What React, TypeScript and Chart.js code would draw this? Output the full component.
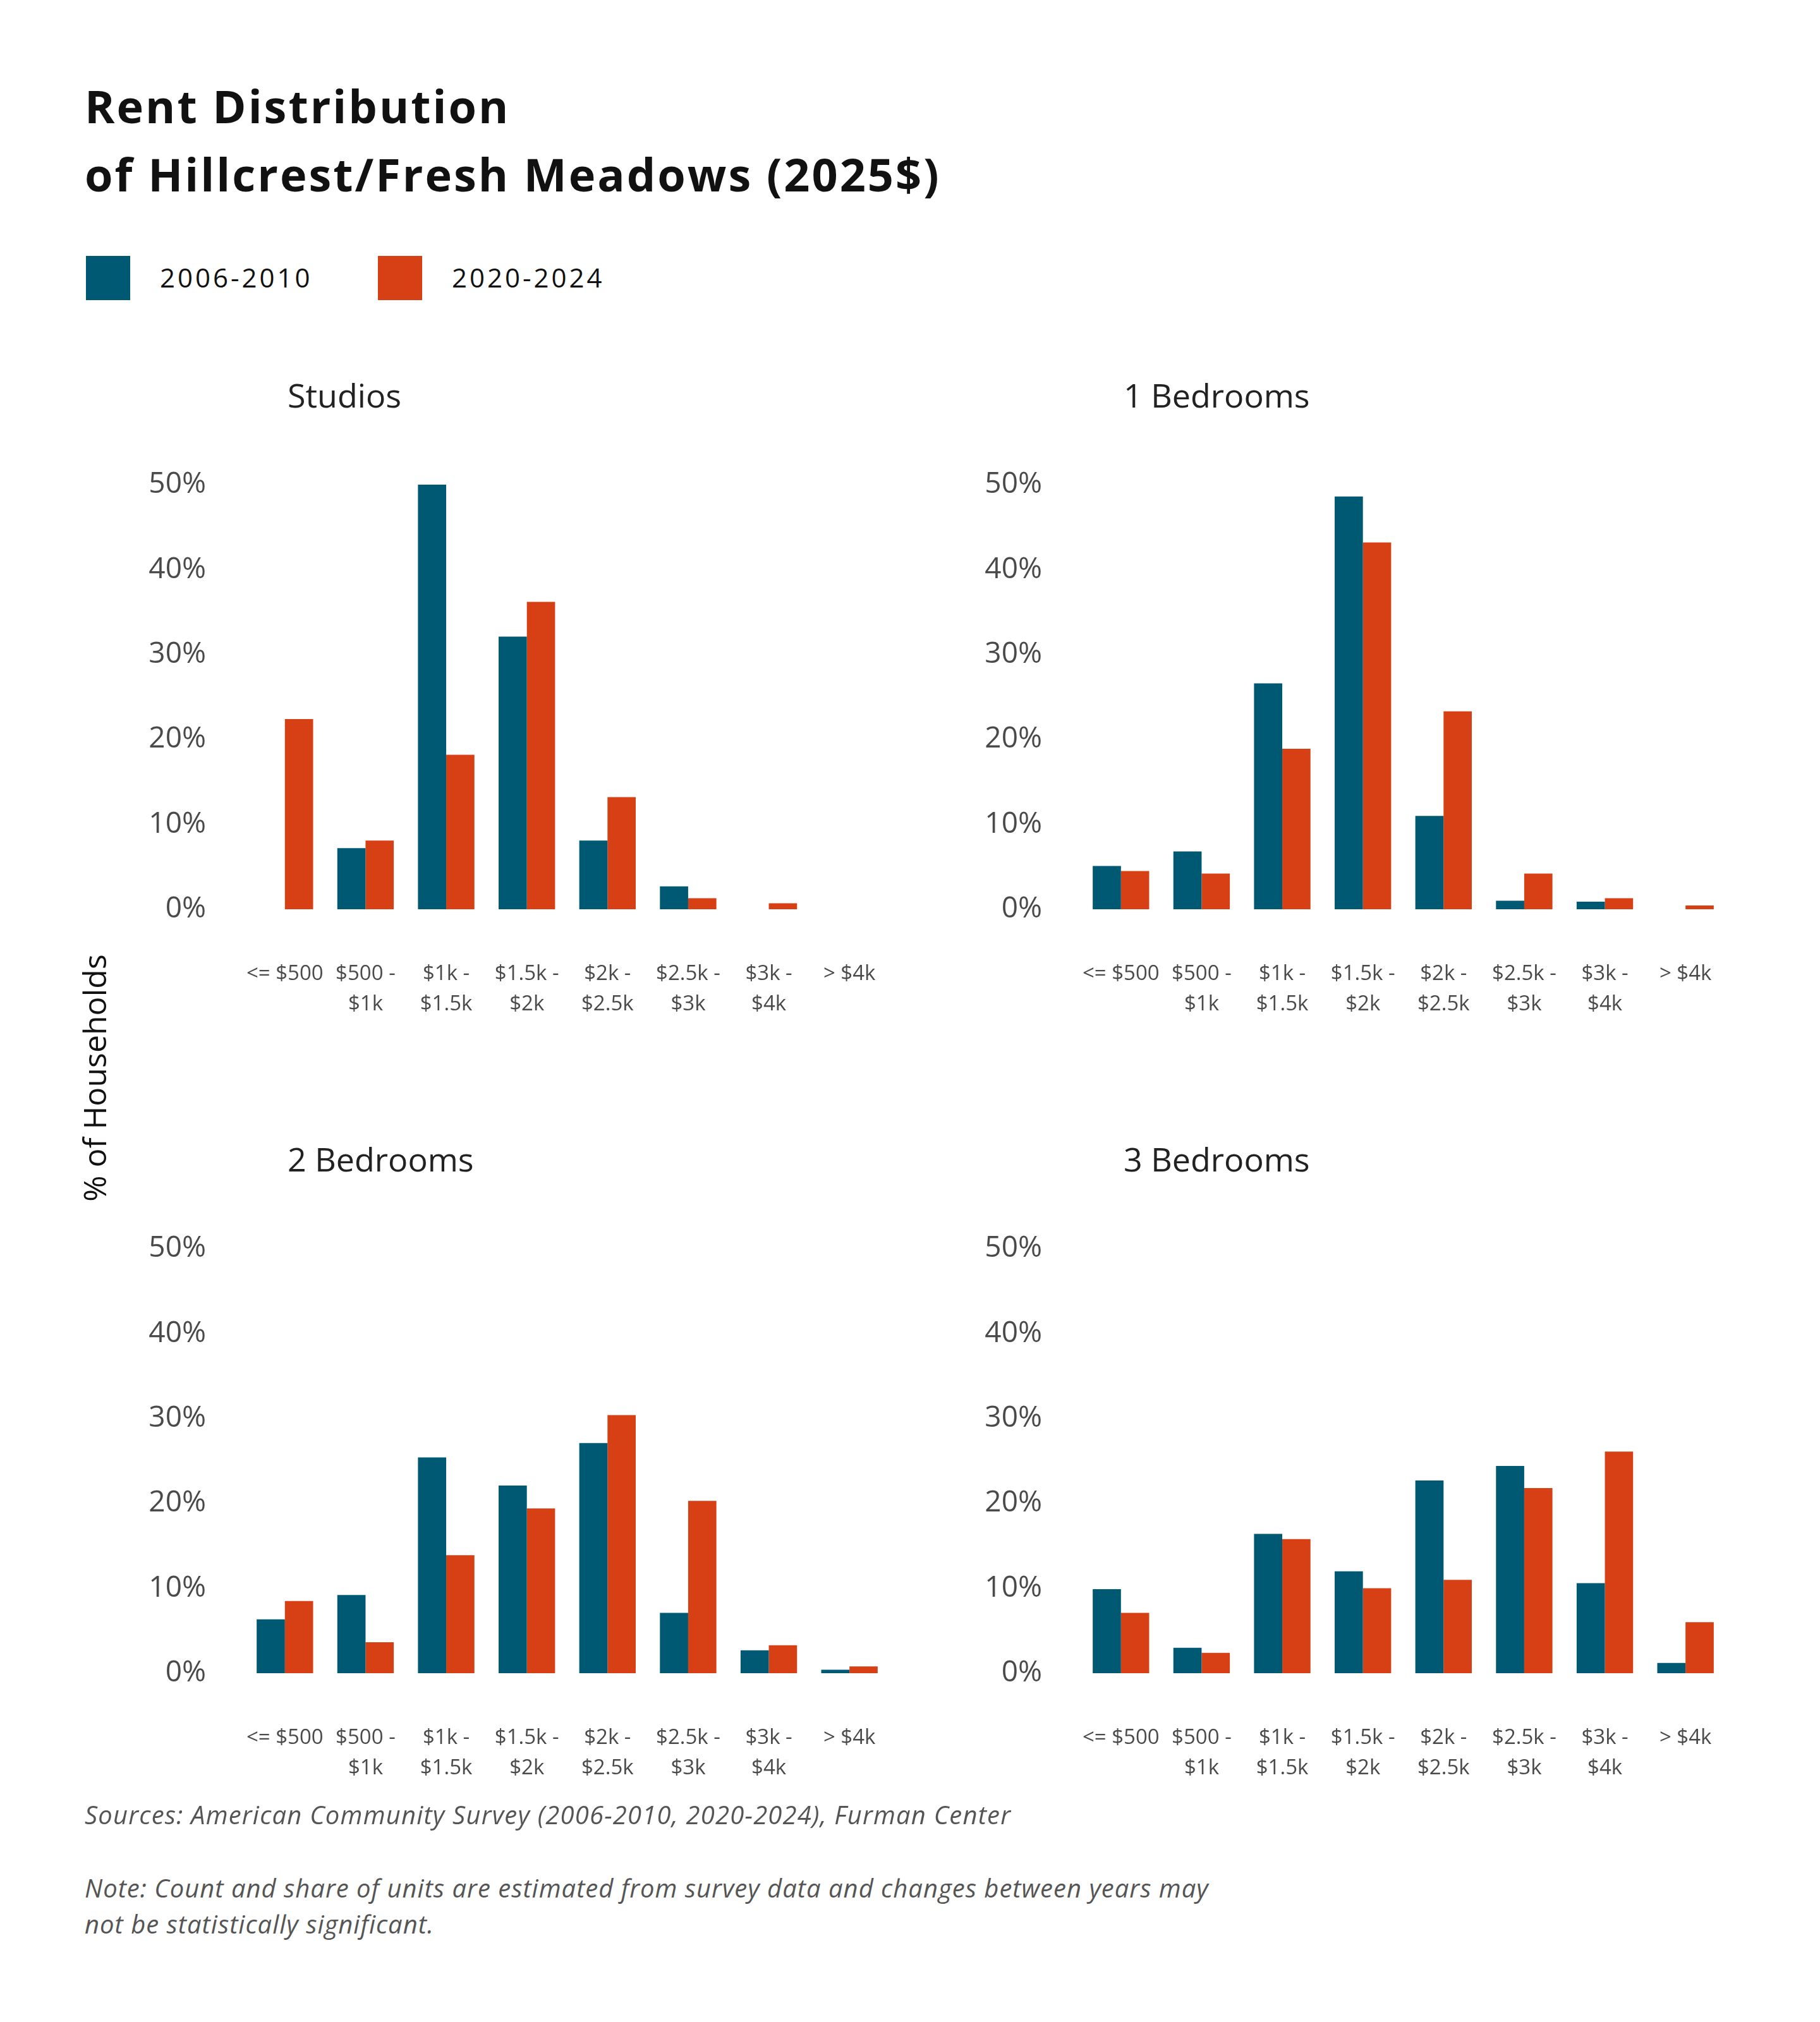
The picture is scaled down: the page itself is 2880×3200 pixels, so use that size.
import { useEffect, useRef } from 'react'
import Chart from 'chart.js/auto'

// x categories (rent bands), multi-line where the source wraps them
const categories: (string | string[])[] = [
  '<= $500',
  ['$500 -', '$1k'],
  ['$1k -', '$1.5k'],
  ['$1.5k -', '$2k'],
  ['$2k -', '$2.5k'],
  ['$2.5k -', '$3k'],
  ['$3k -', '$4k'],
  '> $4k',
]
const seriesLabels = ['2006-2010', '2020-2024']
const seriesColors = ['#005972', '#d64014']
const yTicks = [0, 10, 20, 30, 40, 50]

// % of households per rent band
const studios2006 = [0, 7.2, 50.0, 32.1, 8.1, 2.7, 0, 0]
const studios2020 = [22.4, 8.1, 18.2, 36.2, 13.2, 1.3, 0.7, 0]
const oneBed2006 = [5.1, 6.8, 26.6, 48.6, 11.0, 1.0, 0.9, 0]
const oneBed2020 = [4.5, 4.2, 18.9, 43.2, 23.3, 4.2, 1.3, 0.45]
const twoBed2006 = [6.35, 9.2, 25.4, 22.1, 27.1, 7.1, 2.7, 0.4]
const twoBed2020 = [8.5, 3.65, 13.9, 19.4, 30.4, 20.3, 3.3, 0.8]
const threeBed2006 = [9.9, 3.0, 16.4, 12.0, 22.7, 24.4, 10.6, 1.2]
const threeBed2020 = [7.1, 2.4, 15.8, 10.0, 11.0, 21.8, 26.1, 6.0]

const FONT = '"Open Sans", Roboto, sans-serif'
const TICK_COLOR = '#4a4a4a'

// room reserved around each plot area inside its canvas
const PAD_TOP = 95
const PAD_RIGHT = 70
const Y_AXIS_W = 187
const X_AXIS_H = 200
const PLOT_W = 1021
const PLOT_H = 672

interface PanelProps {
  title: string
  older: number[]
  newer: number[]
  plotLeft: number
  plotTop: number
}

function Panel({ title, older, newer, plotLeft, plotTop }: PanelProps) {
  const chartRef = useRef<HTMLCanvasElement>(null)
  const chartInstance = useRef<Chart<'bar'> | null>(null)

  useEffect(() => {
    if (!chartRef.current) return
    if (chartInstance.current) chartInstance.current.destroy()
    const ctx = chartRef.current.getContext('2d')
    if (!ctx) return

    chartInstance.current = new Chart(ctx, {
      type: 'bar',
      data: {
        labels: categories,
        datasets: [older, newer].map((values, i) => ({
          label: seriesLabels[i],
          data: values,
          backgroundColor: seriesColors[i],
          borderWidth: 0,
          categoryPercentage: 0.7,
          barPercentage: 1.0,
        })),
      },
      options: {
        animation: false,
        responsive: true,
        maintainAspectRatio: false,
        layout: { padding: { top: PAD_TOP, right: PAD_RIGHT, bottom: 0, left: 0 } },
        plugins: {
          legend: { display: false },
          tooltip: { enabled: false },
        },
        scales: {
          x: {
            grid: { display: false, drawTicks: false },
            border: { display: false },
            ticks: {
              padding: 79,
              color: TICK_COLOR,
              autoSkip: false,
              maxRotation: 0,
              minRotation: 0,
              font: { family: FONT, size: 33, lineHeight: 1.45 },
            },
            afterFit: (scale: any) => {
              scale.height = X_AXIS_H
            },
          },
          y: {
            min: 0,
            max: 50,
            grid: { display: false, drawTicks: false },
            border: { display: false },
            ticks: {
              padding: 61,
              color: TICK_COLOR,
              font: { family: FONT, size: 46 },
              callback: (v: any) => v + '%',
            },
            afterBuildTicks: (axis: any) => {
              axis.ticks = yTicks.map(v => ({ value: v }))
            },
            afterFit: (scale: any) => {
              scale.width = Y_AXIS_W
            },
          },
        },
      },
    })

    return () => {
      if (chartInstance.current) {
        chartInstance.current.destroy()
        chartInstance.current = null
      }
    }
  }, [older, newer])

  return (
    <>
      <div
        style={{
          position: 'absolute',
          left: plotLeft + 68,
          top: plotTop - 168,
          fontFamily: FONT,
          fontSize: 52,
          lineHeight: '52px',
          color: '#222',
          whiteSpace: 'nowrap',
        }}
      >
        {title}
      </div>
      <div
        style={{
          position: 'absolute',
          left: plotLeft - Y_AXIS_W,
          top: plotTop - PAD_TOP,
          width: Y_AXIS_W + PLOT_W + PAD_RIGHT,
          height: PAD_TOP + PLOT_H + X_AXIS_H,
        }}
      >
        <canvas ref={chartRef}></canvas>
      </div>
    </>
  )
}

export default function App() {
  return (
    <div
      style={{
        position: 'absolute',
        left: 0,
        top: 0,
        width: 2880,
        height: 3200,
        background: '#fff',
        fontFamily: FONT,
        overflow: 'hidden',
      }}
    >
      <div
        style={{
          position: 'absolute',
          left: 134,
          top: 113,
          fontSize: 72,
          lineHeight: '108px',
          fontWeight: 700,
          letterSpacing: 3,
          color: '#111',
          whiteSpace: 'nowrap',
        }}
      >
        Rent Distribution
        <br />
        of Hillcrest/Fresh Meadows (2025$)
      </div>

      {seriesLabels.map((label, i) => (
        <div key={label}>
          <div
            style={{
              position: 'absolute',
              left: 136 + i * 462,
              top: 405,
              width: 70,
              height: 70,
              background: seriesColors[i],
            }}
          />
          <div
            style={{
              position: 'absolute',
              left: 253 + i * 462,
              top: 418,
              fontSize: 42,
              lineHeight: '42px',
              letterSpacing: 4,
              color: '#111',
              whiteSpace: 'nowrap',
            }}
          >
            {label}
          </div>
        </div>
      ))}

      <div
        style={{
          position: 'absolute',
          left: -151,
          top: 1681,
          width: 600,
          height: 50,
          fontSize: 50,
          lineHeight: '50px',
          textAlign: 'center',
          color: '#111',
          transform: 'rotate(-90deg)',
          transformOrigin: 'center',
          whiteSpace: 'nowrap',
        }}
      >
        % of Households
      </div>

      <Panel title="Studios" older={studios2006} newer={studios2020} plotLeft={387} plotTop={767} />
      <Panel title="1 Bedrooms" older={oneBed2006} newer={oneBed2020} plotLeft={1710} plotTop={767} />
      <Panel title="2 Bedrooms" older={twoBed2006} newer={twoBed2020} plotLeft={387} plotTop={1976} />
      <Panel title="3 Bedrooms" older={threeBed2006} newer={threeBed2020} plotLeft={1710} plotTop={1976} />

      <div
        style={{
          position: 'absolute',
          left: 134,
          top: 2852,
          fontSize: 40,
          lineHeight: '40px',
          fontStyle: 'italic',
          letterSpacing: 1.2,
          color: '#555',
          whiteSpace: 'nowrap',
        }}
      >
        Sources: American Community Survey (2006-2010, 2020-2024), Furman Center
      </div>
      <div
        style={{
          position: 'absolute',
          left: 134,
          top: 2959,
          fontSize: 40,
          lineHeight: '57px',
          fontStyle: 'italic',
          letterSpacing: 1,
          color: '#555',
          whiteSpace: 'nowrap',
        }}
      >
        Note: Count and share of units are estimated from survey data and changes between years may
        <br />
        not be statistically significant.
      </div>
    </div>
  )
}
